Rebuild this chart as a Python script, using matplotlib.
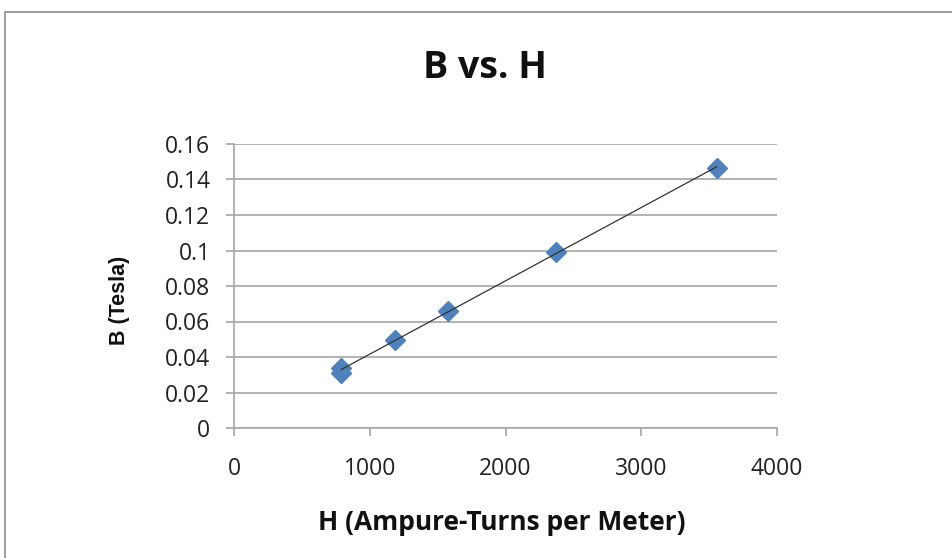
import matplotlib
matplotlib.use("Agg")
import matplotlib.pyplot as plt
import numpy as np
from matplotlib.patches import Rectangle

H = [790, 790, 1185, 1580, 2370, 3555]
B = [0.031, 0.034, 0.0495, 0.066, 0.099, 0.1465]
xticks = [0, 1000, 2000, 3000, 4000]
yticks = [0, 0.02, 0.04, 0.06, 0.08, 0.1, 0.12, 0.14, 0.16]
ytick_labels = ["0", "0.02", "0.04", "0.06", "0.08", "0.1", "0.12", "0.14", "0.16"]

plt.rcParams['font.family'] = ['Open Sans', 'DejaVu Sans']

fig = plt.figure(figsize=(9.52, 5.58), dpi=100)
W, Hh = 952, 558
ax = fig.add_axes([234 / W, 1 - 428 / Hh, (777 - 234) / W, (428 - 144) / Hh])

ax.set_xlim(0, 4000)
ax.set_ylim(0, 0.16)
ax.set_xticks(xticks)
ax.set_xticklabels([str(t) for t in xticks])
ax.set_yticks(yticks)
ax.set_yticklabels(ytick_labels)
ax.grid(axis='y', color='#a6a6a6', linewidth=1.2)
ax.set_axisbelow(True)
for s in ['top', 'right']:
    ax.spines[s].set_visible(False)
for s in ['left', 'bottom']:
    ax.spines[s].set_color('#a6a6a6')
    ax.spines[s].set_linewidth(1.2)
ax.tick_params(axis='both', colors='#a6a6a6', labelcolor='#222222', labelsize=16.5,
               length=6, width=1.2, direction='out')
ax.tick_params(axis='x', pad=15)
ax.tick_params(axis='y', pad=11)

# trendline
coef = np.polyfit(H, B, 1)
xs = np.array([min(H), max(H)])
ax.plot(xs, np.polyval(coef, xs), color='#333333', linewidth=0.9, zorder=4)

ax.plot(H, B, linestyle='none', marker='D', markersize=10, color='#4F81BD',
        markeredgecolor='#4F81BD', zorder=3, clip_on=False)

fig.text(485 / W, 1 - 68 / Hh, "B vs. H", ha='center', va='center',
         fontsize=27, fontweight='bold', color='#111111')
fig.text(502 / W, 1 - 523 / Hh, "H (Ampure-Turns per Meter)", ha='center', va='center',
         fontsize=19, fontweight='bold', color='#111111')
fig.text(120 / W, 1 - 300 / Hh, "B (Tesla)", ha='center', va='center', rotation=90,
         fontsize=15.5, fontweight='bold', color='#111111',
         family=['Liberation Sans', 'DejaVu Sans'])

fig.patches.append(Rectangle((5 / W, -0.1), 1.2, 1 - 12 / Hh + 0.1,
                             transform=fig.transFigure, fill=False,
                             edgecolor='#8c8c8c', linewidth=1.2))

fig.savefig("out.png", dpi=100)
